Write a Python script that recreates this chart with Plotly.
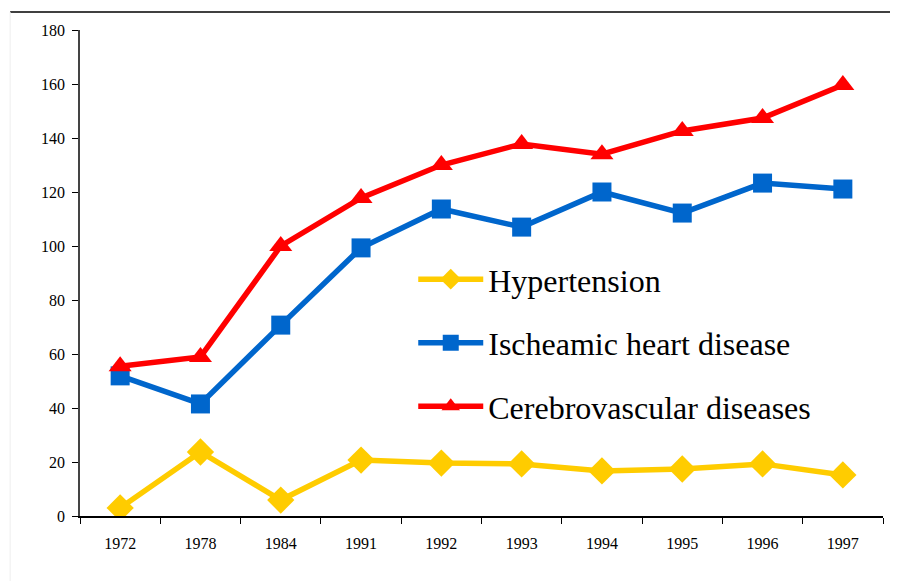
import plotly.graph_objects as go

years = ["1972", "1978", "1984", "1991", "1992", "1993", "1994", "1995", "1996", "1997"]
hypertension = [3, 23.7, 5.9, 20.7, 19.6, 19.3, 16.7, 17.4, 19.3, 15.2]
ischaemic = [51.9, 41.5, 70.7, 99.3, 113.7, 107, 120, 112.2, 123.3, 121.1]
cerebro = [55.5, 58.9, 100, 117.8, 130, 137.8, 134, 142.6, 147.4, 159.6]

series = [
    ("Hypertension", hypertension, "#FFCC00", "diamond", 21),
    ("Ischeamic heart disease", ischaemic, "#0066CC", "square", 19),
    ("Cerebrovascular diseases", cerebro, "#FF0000", "triangle-up", 20),
]

fig = go.Figure()
for name, vals, color, symbol, size in series:
    fig.add_trace(go.Scatter(
        x=years, y=vals, name=name, legendgroup=name,
        mode="lines+markers",
        line=dict(color=color, width=5.5),
        marker=dict(symbol=symbol, size=size, color=color),
    ))

serif = "Liberation Serif"
tickfont = dict(family=serif, size=16, color="black")

# page body has an 8px margin, so the figure is a bit smaller than the window
fig.update_layout(
    width=890, height=573,
    margin=dict(l=72, r=15, t=22, b=65),
    plot_bgcolor="white", paper_bgcolor="white",
    font=dict(family=serif, size=16, color="black"),
    showlegend=True,
    legend=dict(
        x=0.415, y=0.5435, xanchor="left", yanchor="top",
        font=dict(family=serif, size=32, color="black"),
        bgcolor="rgba(0,0,0,0)",
        itemwidth=65, tracegroupgap=19,
    ),
    xaxis=dict(
        type="category", showgrid=False, showline=True, linecolor="black", linewidth=1.5,
        ticks="outside", tickson="boundaries", ticklen=6, tickcolor="black",
        tickfont=tickfont, ticklabelstandoff=12, range=[-0.5, 9.5],
    ),
    yaxis=dict(
        range=[0, 180], dtick=20, showgrid=False, zeroline=False,
        showline=True, linecolor="#444", linewidth=1.5,
        ticks="outside", ticklen=6, tickcolor="black",
        tickfont=tickfont, ticklabelstandoff=4,
    ),
)

# thin border line across the top and faint left edge
fig.add_shape(type="line", xref="paper", yref="paper",
              x0=-0.087, x1=1.02, y0=1.037, y1=1.037,
              line=dict(color="black", width=1.5))
fig.add_shape(type="line", xref="paper", yref="paper",
              x0=-0.087, x1=-0.087, y0=1.037, y1=-0.14,
              line=dict(color="#eeeeee", width=1))

fig.write_html("out.html")
